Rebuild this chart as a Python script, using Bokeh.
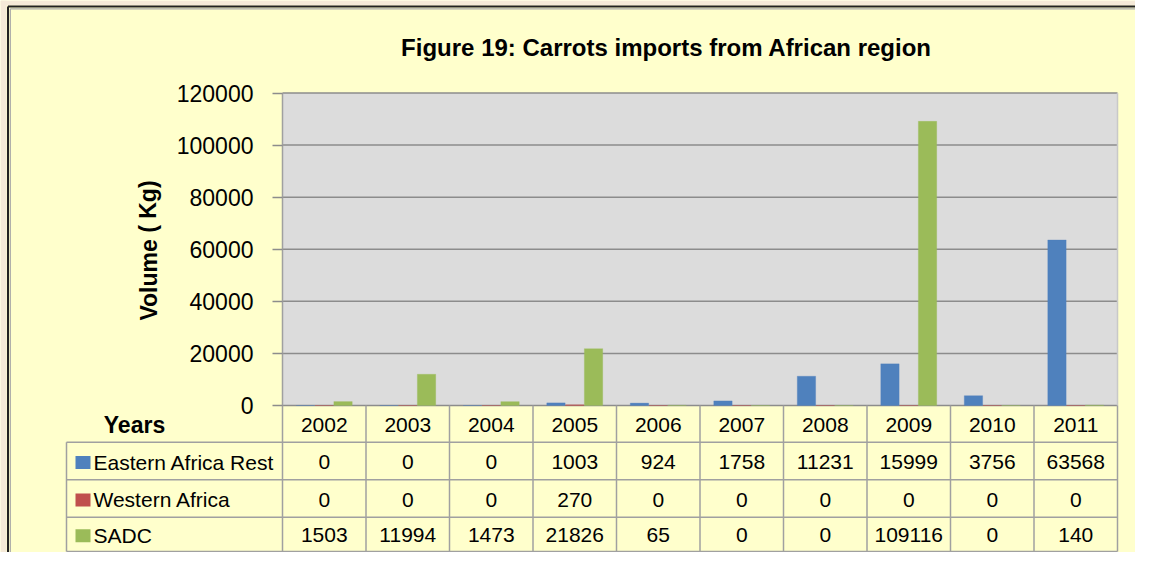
from bokeh.plotting import figure
from bokeh.models import (ColumnDataSource, Range1d, LinearAxis, FixedTicker,
                          NumeralTickFormatter)
from bokeh.transform import dodge
from bokeh.core.properties import value
from bokeh.embed import file_html
from bokeh.resources import INLINE

# ---------------- data ----------------
years = ["2002", "2003", "2004", "2005", "2006", "2007", "2008", "2009", "2010", "2011"]
series_names = ["Eastern Africa Rest", "Western Africa", "SADC"]
eastern_africa_rest = [0, 0, 0, 1003, 924, 1758, 11231, 15999, 3756, 63568]
western_africa = [0, 0, 0, 270, 0, 0, 0, 0, 0, 0]
sadc = [1503, 11994, 1473, 21826, 65, 0, 0, 109116, 0, 140]
y_ticks = [0, 20000, 40000, 60000, 80000, 100000, 120000]
title_text = "Figure 19: Carrots imports from African region"
y_label = "Volume ( Kg)"
table_header = "Years"

series_values = [eastern_africa_rest, western_africa, sadc]
colors = ["#4F81BD", "#C0504D", "#9BBB59"]

# ---------------- layout (page pixels) ----------------
W, H = 1135, 552
OFF = 0
PLOT_L, PLOT_R, PLOT_T, PLOT_B = 282, 1117, 92.5, 405
TBL_L = 66
ROW_LINES = [441.7, 479.3, 516.7, 551.0]
N = len(years)
cat_w = (PLOT_R - PLOT_L) / N
YMAX = y_ticks[-1]
ppu = (PLOT_B - PLOT_T) / YMAX

def px(x):
    return (x - PLOT_L) / cat_w

def py(y):
    return (PLOT_B - y) / ppu

FNAME = "Liberation Sans"
FONT = value(FNAME)

p = figure(width=W, height=H, output_backend="svg", toolbar_location=None,
           x_axis_type=None, y_axis_type=None,
           x_range=Range1d(px(OFF), px(OFF + W)),
           y_range=Range1d(py(OFF + H), py(OFF)),
           min_border=0, min_border_left=0, min_border_right=0,
           min_border_top=0, min_border_bottom=0)
p.background_fill_color = "#FFFFCC"
p.border_fill_color = "#FFFFCC"
p.outline_line_color = None

# outer chart frame (beige surround + dark edge on top/left)
x_lo, x_hi = px(OFF), px(OFF + W)
y_lo, y_hi = py(OFF + H), py(OFF)
p.quad(left=[x_lo, x_lo], right=[px(6), x_hi], bottom=[y_lo, py(5)], top=[y_hi, y_hi],
       fill_color="#F5EAD8", line_color=None)
p.segment(x0=[px(7.5), px(7.5)], x1=[px(7.5), x_hi], y0=[y_lo, py(6)], y1=[py(6), py(6)],
          line_color="#222222", line_width=2)
p.segment(x0=[px(9.8), px(9.8)], x1=[px(9.8), x_hi], y0=[y_lo, py(8.3)], y1=[py(8.3), py(8.3)],
          line_color="#A8A8A8", line_width=1.2)

# plot area background
p.quad(left=[0], right=[N], bottom=[0], top=[YMAX], fill_color="#DCDCDC", line_color=None)

# gridlines
p.segment(x0=[0] * len(y_ticks), x1=[N] * len(y_ticks), y0=y_ticks, y1=y_ticks,
          line_color="#8C8C8C", line_width=1.5)
# right edge of plot area
p.segment(x0=[N], x1=[N], y0=[0], y1=[YMAX], line_color="#C8C8C8", line_width=1.5)

# bars
src = ColumnDataSource(dict(xc=[i + 0.5 for i in range(N)],
                            e=eastern_africa_rest, w=western_africa, s=sadc))
offsets = [-0.225, 0.0, 0.225]
for col, off, c in zip(["e", "w", "s"], offsets, colors):
    p.vbar(x=dodge("xc", off, range=p.x_range), top=col, bottom=0, width=0.22,
           source=src, fill_color=c, line_color=c, line_alpha=0.6, line_width=0.5)

# y axis
yaxis = LinearAxis(fixed_location=0, ticker=FixedTicker(ticks=y_ticks),
                   formatter=NumeralTickFormatter(format="0"),
                   axis_line_color=None, major_tick_out=10, major_tick_in=0,
                   major_tick_line_color="#8C8C8C", major_tick_line_width=1.5,
                   minor_tick_line_color=None, major_label_standoff=19,
                   major_label_text_font_size="23px", major_label_text_font=FNAME,
                   major_label_text_color="black")
p.add_layout(yaxis, "left")

# title & y label
p.text(x=[px(666)], y=[py(47)], text=[title_text], text_font=FONT, text_font_style="bold",
       text_font_size="24px", text_align="center", text_baseline="middle", text_color="black")
p.text(x=[px(148)], y=[py(250)], text=[y_label], text_font=FONT, text_font_style="bold",
       text_font_size="23px", text_align="center", text_baseline="middle", angle=1.5708,
       text_color="black")

# ---------------- data table ----------------
grid_c = "#A0A0A0"
ytop = py(PLOT_B)
yrows = [py(v) for v in ROW_LINES]
# horizontal lines
p.segment(x0=[px(TBL_L)] * len(yrows), x1=[N] * len(yrows), y0=yrows, y1=yrows,
          line_color=grid_c, line_width=1.5)
# vertical lines
p.segment(x0=[px(TBL_L)], x1=[px(TBL_L)], y0=[yrows[0]], y1=[yrows[-1]],
          line_color=grid_c, line_width=1.5)
p.segment(x0=[0], x1=[0], y0=[yrows[-1]], y1=[YMAX], line_color=grid_c, line_width=1.5)
bx = list(range(1, N + 1))
p.segment(x0=bx, x1=bx, y0=[ytop] * N, y1=[yrows[-1]] * N, line_color=grid_c, line_width=1.5)

# header
p.text(x=[i + 0.5 for i in range(N)], y=[py((PLOT_B + ROW_LINES[0]) / 2 + 1)] * N, text=years,
       text_font=FONT, text_font_size="21px", text_align="center", text_baseline="middle",
       text_color="black")
p.text(x=[px(134)], y=[py(424)], text=[table_header], text_font=FONT, text_font_style="bold",
       text_font_size="23px", text_align="center", text_baseline="middle", text_color="black")

for r, (name, vals, c) in enumerate(zip(series_names, series_values, colors)):
    yc = py((ROW_LINES[r] + ROW_LINES[r + 1]) / 2 + 1)
    p.rect(x=[px(82.5)], y=[yc - 0.5 / ppu], width=15, height=13, width_units="screen",
           height_units="screen", fill_color=c, line_color=None)
    p.text(x=[px(93)], y=[yc], text=[name], text_font=FONT, text_font_size="21px",
           text_align="left", text_baseline="middle", text_color="black")
    p.text(x=[i + 0.5 for i in range(N)], y=[yc] * N, text=[str(v) for v in vals],
           text_font=FONT, text_font_size="21px", text_align="center", text_baseline="middle",
           text_color="black")

open("out.html", "w").write(file_html(p, INLINE))
